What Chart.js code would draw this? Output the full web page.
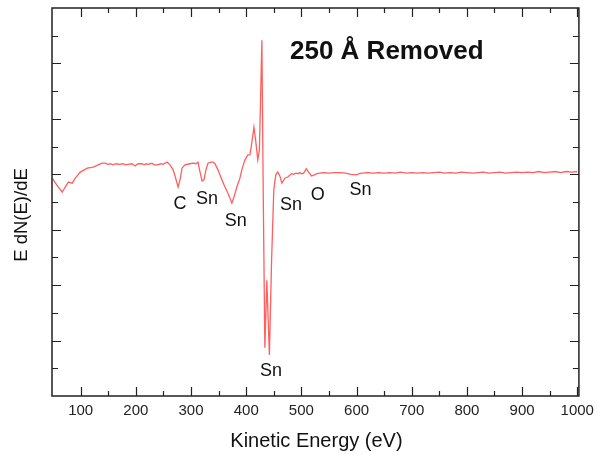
<!DOCTYPE html>
<html>
<head>
<meta charset="utf-8">
<script src="https://cdn.jsdelivr.net/npm/chart.js@4.4.1/dist/chart.umd.min.js"></script>
<style>
  html, body { margin: 0; padding: 0; background: #fff; }
  #wrap { width: 600px; height: 454px; }
</style>
</head>
<body>
<div id="wrap"><canvas id="c" width="600" height="454"></canvas></div>
<script>
// ---- data ----
const energy = [49, 50.5, 57.7, 66.7, 72, 77.6, 84.8, 90.2, 99.3, 112, 122.8, 131.8, 139, 144.5, 149, 153.5, 158, 164, 170, 177, 181, 186, 193, 198.7, 204, 211, 215, 218.6, 222, 225.9, 229, 233, 238.5, 242, 245.8, 249, 253, 256.6, 262, 267.5, 271, 276.5, 280, 283.7, 289, 298, 303.6, 309, 312.7, 315.4, 320, 323.5, 327, 330.7, 336, 339.8, 343.4, 348.8, 354, 359.7, 365, 370.5, 374, 377.8, 383, 388.6, 392, 397.7, 403, 406.7, 410, 414, 417, 421, 423.9, 428.4, 431, 433.8, 437.4, 442, 446, 450, 453.6, 457, 461, 464.6, 470, 475.4, 482, 486, 490, 494, 497, 500, 504, 509, 513, 518.5, 524, 528, 533, 540, 550, 560, 570, 580, 590, 600, 605, 610, 620, 630, 640, 650, 660, 670, 680, 690, 700, 710, 720, 730, 740, 750, 760, 770, 780, 790, 800, 810, 820, 830, 840, 850, 860, 870, 880, 890, 900, 910, 920, 930, 940, 950, 960, 970, 980, 990, 1000];
const signal = [-0.07, -0.10, -0.21, -0.32, -0.23, -0.14, -0.16, -0.07, 0.04, 0.11, 0.13, 0.17, 0.20, 0.20, 0.18, 0.19, 0.17, 0.19, 0.18, 0.19, 0.17, 0.18, 0.19, 0.15, 0.19, 0.19, 0.17, 0.19, 0.18, 0.19, 0.20, 0.17, 0.17, 0.18, 0.19, 0.18, 0.20, 0.22, 0.17, 0.08, -0.03, -0.23, -0.10, 0.11, 0.17, 0.19, 0.20, 0.19, 0.22, 0.08, -0.12, -0.10, 0.08, 0.20, 0.22, 0.22, 0.19, 0.08, -0.05, -0.19, -0.30, -0.43, -0.52, -0.41, -0.23, -0.07, 0.08, 0.26, 0.35, 0.35, 0.56, 0.85, 0.62, 0.26, 0.44, 2.42, -0.50, -3.13, -1.91, -3.26, -1.55, -0.28, -0.01, 0.04, -0.03, -0.16, -0.07, -0.05, 0.01, 0.00, 0.02, 0.01, 0.03, 0.01, 0.02, 0.10, 0.04, -0.03, -0.01, 0.01, 0.02, 0.03, 0.02, 0.03, 0.03, 0.02, 0.00, -0.01, 0.01, 0.02, 0.03, 0.02, 0.03, 0.02, 0.03, 0.02, 0.04, 0.02, 0.03, 0.02, 0.03, 0.02, 0.03, 0.04, 0.02, 0.03, 0.02, 0.04, 0.03, 0.02, 0.03, 0.04, 0.02, 0.03, 0.04, 0.02, 0.03, 0.04, 0.03, 0.04, 0.03, 0.05, 0.03, 0.04, 0.05, 0.03, 0.05, 0.04, 0.05];

const xMajorTicks = [100, 200, 300, 400, 500, 600, 700, 800, 900, 1000];
const xTickLabels = ['100', '200', '300', '400', '500', '600', '700', '800', '900', '1000'];
const xMinorTicks = [150, 250, 350, 450, 550, 650, 750, 850, 950];
const yMajorTicks = [-3, -2, -1, 0, 1, 2];
const yMinorTicks = [-3.5, -2.5, -1.5, -0.5, 0.5, 1.5, 2.5];

const peakLabels = ['C', 'Sn', 'Sn', 'Sn', 'Sn', 'O', 'Sn'];
const peakLabelEnergy = [280, 329, 381, 445, 481, 529.5, 607];
const peakLabelLevel = [-0.54, -0.45, -0.84, -3.55, -0.55, -0.37, -0.28];

const titleText = '250 Å Removed';
const xTitle = 'Kinetic Energy (eV)';
const yTitle = 'E dN(E)/dE';

const points = energy.map((e, i) => ({ x: e, y: signal[i] }));

const decor = {
  id: 'decor',
  afterDatasetsDraw(chart) {
    const ctx = chart.ctx;
    const a = chart.chartArea;
    const xs = chart.scales.x, ys = chart.scales.y;
    ctx.save();
    ctx.strokeStyle = '#222';
    ctx.lineWidth = 1.2;
    ctx.beginPath();
    const xt = (v, len) => {
      const px = Math.round(xs.getPixelForValue(v)) + 0.5;
      ctx.moveTo(px, a.bottom); ctx.lineTo(px, a.bottom - len);
      ctx.moveTo(px, a.top); ctx.lineTo(px, a.top + len);
    };
    xMajorTicks.forEach(v => xt(v, 9));
    xMinorTicks.forEach(v => xt(v, 5));
    const yt = (v, len) => {
      const py = Math.round(ys.getPixelForValue(v)) + 0.5;
      ctx.moveTo(a.left, py); ctx.lineTo(a.left + len, py);
      ctx.moveTo(a.right, py); ctx.lineTo(a.right - len, py);
    };
    yMajorTicks.forEach(v => yt(v, 9));
    yMinorTicks.forEach(v => yt(v, 6));
    ctx.stroke();
    ctx.lineWidth = 1.5;
    ctx.strokeRect(a.left, a.top, a.right - a.left, a.bottom - a.top);

    ctx.fillStyle = '#111';
    ctx.font = '18px "Liberation Sans", Arial, sans-serif';
    ctx.textAlign = 'center';
    ctx.textBaseline = 'middle';
    peakLabels.forEach((t, i) => {
      ctx.fillText(t, xs.getPixelForValue(peakLabelEnergy[i]), ys.getPixelForValue(peakLabelLevel[i]));
    });

    ctx.font = 'bold 26px "Liberation Sans", Arial, sans-serif';
    ctx.textAlign = 'left';
    ctx.textBaseline = 'alphabetic';
    ctx.fillText(titleText, 290, 59);

    ctx.font = '20px "Liberation Sans", Arial, sans-serif';
    ctx.textAlign = 'center';
    ctx.textBaseline = 'middle';
    ctx.fillText(xTitle, (a.left + a.right) / 2 + 1, 441);
    ctx.save();
    ctx.translate(22, 215);
    ctx.rotate(-Math.PI / 2);
    ctx.font = '18.5px "Liberation Sans", Arial, sans-serif';
    ctx.fillText(yTitle, 0, 0);
    ctx.restore();
    ctx.restore();
  }
};

new Chart(document.getElementById('c'), {
  type: 'line',
  data: {
    datasets: [{
      data: points,
      borderColor: 'rgb(255, 95, 95)',
      borderWidth: 1.3,
      pointRadius: 0,
      tension: 0,
      fill: false
    }]
  },
  options: {
    responsive: false,
    animation: false,
    events: [],
    layout: { padding: { top: 8, right: 20, left: 0, bottom: 0 } },
    plugins: { legend: { display: false }, tooltip: { enabled: false }, title: { display: false } },
    scales: {
      x: {
        type: 'linear',
        min: 48, max: 1003,
        grid: { display: false, drawTicks: false },
        border: { display: false },
        afterBuildTicks: s => { s.ticks = xMajorTicks.map(v => ({ value: v })); },
        afterFit: s => { s.height = 58; },
        ticks: {
          padding: 6,
          color: '#222',
          font: { family: '"Liberation Sans", Arial, sans-serif', size: 15 },
          maxRotation: 0,
          autoSkip: false,
          callback: (v) => xTickLabels[xMajorTicks.indexOf(v)]
        }
      },
      y: {
        type: 'linear',
        min: -4, max: 3,
        grid: { display: false, drawTicks: false },
        border: { display: false },
        ticks: { display: false },
        afterFit: s => { s.width = 52; }
      }
    }
  },
  plugins: [decor]
});
</script>
</body>
</html>
